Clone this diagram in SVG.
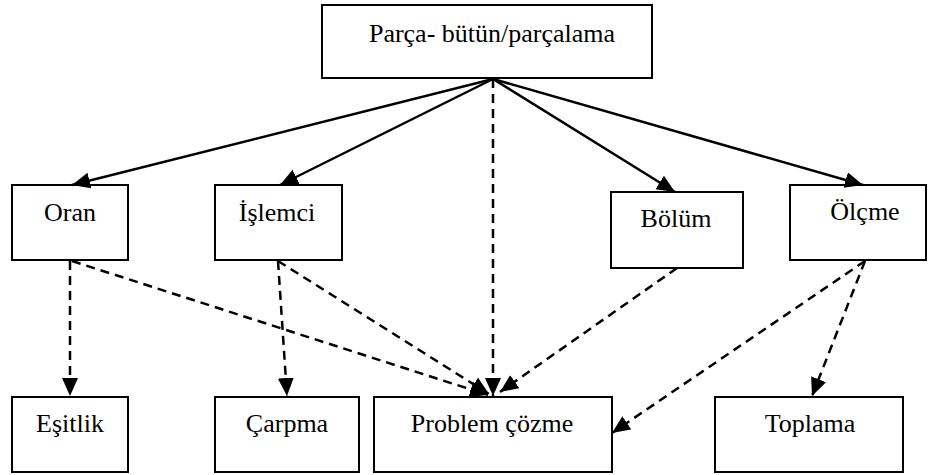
<svg xmlns="http://www.w3.org/2000/svg" width="934" height="475" viewBox="0 0 934 475">
<defs>
<marker id="ah" markerUnits="userSpaceOnUse" markerWidth="20" markerHeight="18" refX="18" refY="8" orient="auto">
<path d="M0,0 L18,8 L0,16 Z" fill="#000"/>
</marker>
<style>
.box{fill:#fff;stroke:#000;stroke-width:2}
.t{font-family:"Liberation Serif","Times New Roman",serif;font-size:26px;fill:#000;text-anchor:middle}
.s{stroke:#000;stroke-width:2.5;fill:none;marker-end:url(#ah)}
.d{stroke:#000;stroke-width:2.5;fill:none;stroke-dasharray:9,6;marker-end:url(#ah)}
</style>
</defs>
<rect width="934" height="475" fill="#fff"/>
<g id="n-parca"><rect class="box" x="322" y="5" width="330" height="73"/><text class="t" x="492" y="42">Parça- bütün/parçalama</text></g>
<g id="n-oran"><rect class="box" x="12" y="185" width="116" height="75"/><text class="t" x="70" y="221">Oran</text></g>
<g id="n-islemci"><rect class="box" x="215" y="185" width="127" height="75"/><text class="t" x="277" y="221">İşlemci</text></g>
<g id="n-bolum"><rect class="box" x="611" y="192" width="132" height="76"/><text class="t" x="676" y="227">Bölüm</text></g>
<g id="n-olcme"><rect class="box" x="790" y="185" width="136" height="75"/><text class="t" x="865" y="220">Ölçme</text></g>
<g id="n-esitlik"><rect class="box" x="12" y="397" width="116" height="75"/><text class="t" x="70" y="432">Eşitlik</text></g>
<g id="n-carpma"><rect class="box" x="215" y="397" width="144" height="75"/><text class="t" x="287" y="432">Çarpma</text></g>
<g id="n-problem"><rect class="box" x="374" y="397" width="238" height="75"/><text class="t" x="492" y="432">Problem çözme</text></g>
<g id="n-toplama"><rect class="box" x="715" y="397" width="188" height="75"/><text class="t" x="810" y="432">Toplama</text></g>
<g id="connectors">
<line class="s" x1="493" y1="79" x2="72" y2="185"/>
<line class="s" x1="493" y1="79" x2="280" y2="185"/>
<line class="s" x1="493" y1="79" x2="675" y2="192"/>
<line class="s" x1="493" y1="79" x2="863" y2="185"/>
<line class="d" x1="493" y1="79" x2="493" y2="396"/>
<line class="d" x1="70" y1="261" x2="70" y2="396"/>
<line class="d" x1="72" y1="261" x2="488" y2="395"/>
<line class="d" x1="278" y1="261" x2="287" y2="396"/>
<line class="d" x1="278" y1="261" x2="489" y2="394"/>
<line class="d" x1="677" y1="268" x2="500" y2="392"/>
<line class="d" x1="865" y1="261" x2="612" y2="433"/>
<line class="d" x1="865" y1="261" x2="812" y2="396"/>
</g>
</svg>
